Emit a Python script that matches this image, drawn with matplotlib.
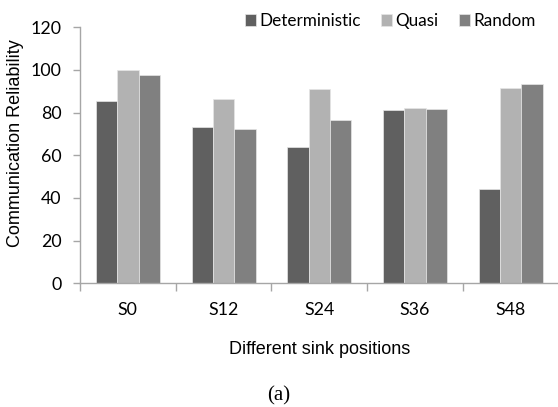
import matplotlib
matplotlib.use("Agg")
import matplotlib.pyplot as plt
import numpy as np

categories = ["S0", "S12", "S24", "S36", "S48"]
series_names = ["Deterministic", "Quasi", "Random"]
deterministic = [85.6, 73.4, 63.9, 81.2, 44.2]
quasi = [100.0, 86.4, 90.9, 82.0, 91.4]
random_vals = [97.8, 72.2, 76.6, 81.7, 93.4]
y_ticks = [0, 20, 40, 60, 80, 100, 120]

colors = ["#606060", "#b2b2b2", "#808080"]
axis_gray = "#a6a6a6"
tick_font = {"family": "Lato", "size": 12.8}

W, H = 558, 407
fig = plt.figure(figsize=(W / 100, H / 100), dpi=100)
ax = fig.add_axes([80 / W, 1 - 283.3 / H, 478.5 / W, 256 / H])

x = np.arange(len(categories))
bw = 0.223
for i, (vals, name) in enumerate(zip([deterministic, quasi, random_vals], series_names)):
    ax.bar(x + (i - 1) * bw, vals, width=bw, color=colors[i], label=name,
           edgecolor="#e6e6e6", linewidth=0.5)

ax.set_xlim(-0.5, len(categories) - 0.5)
ax.set_ylim(0, 120)
ax.set_yticks(y_ticks)
ax.set_yticklabels([str(v) for v in y_ticks], fontdict=tick_font)
ax.set_xticks(x)
ax.set_xticklabels(categories, fontdict=tick_font)
ax.set_xticks(np.arange(-0.5, len(categories)), minor=True)
ax.tick_params(axis="x", which="major", length=0, pad=13.5)
ax.tick_params(axis="x", which="minor", length=6, color=axis_gray, width=1)
ax.tick_params(axis="y", length=5, color=axis_gray, width=1, pad=8.5)

for s in ["top", "right"]:
    ax.spines[s].set_visible(False)
for s in ["left", "bottom"]:
    ax.spines[s].set_color(axis_gray)
    ax.spines[s].set_linewidth(1)

fig.text(15.5 / W, 1 - 143.5 / H, "Communication Reliability", rotation=90,
         ha="center", va="center", fontfamily="Liberation Sans", fontsize=13)
fig.text(319.5 / W, 1 - 349 / H, "Different sink positions",
         ha="center", va="center", fontfamily="Liberation Sans", fontsize=13)

ax.legend(loc="center right", bbox_to_anchor=(0.953, 1.0246), ncol=3, frameon=False,
          handlelength=0.62, handleheight=0.62, handletextpad=0.22, columnspacing=1.2,
          borderpad=0.0, borderaxespad=0.0, prop={"family": "Lato", "size": 12.3})

fig.text(0.5, 1 - 396 / H, "(a)", ha="center", va="center",
         fontfamily="Liberation Serif", fontsize=15)

fig.savefig("out.png", dpi=100)
